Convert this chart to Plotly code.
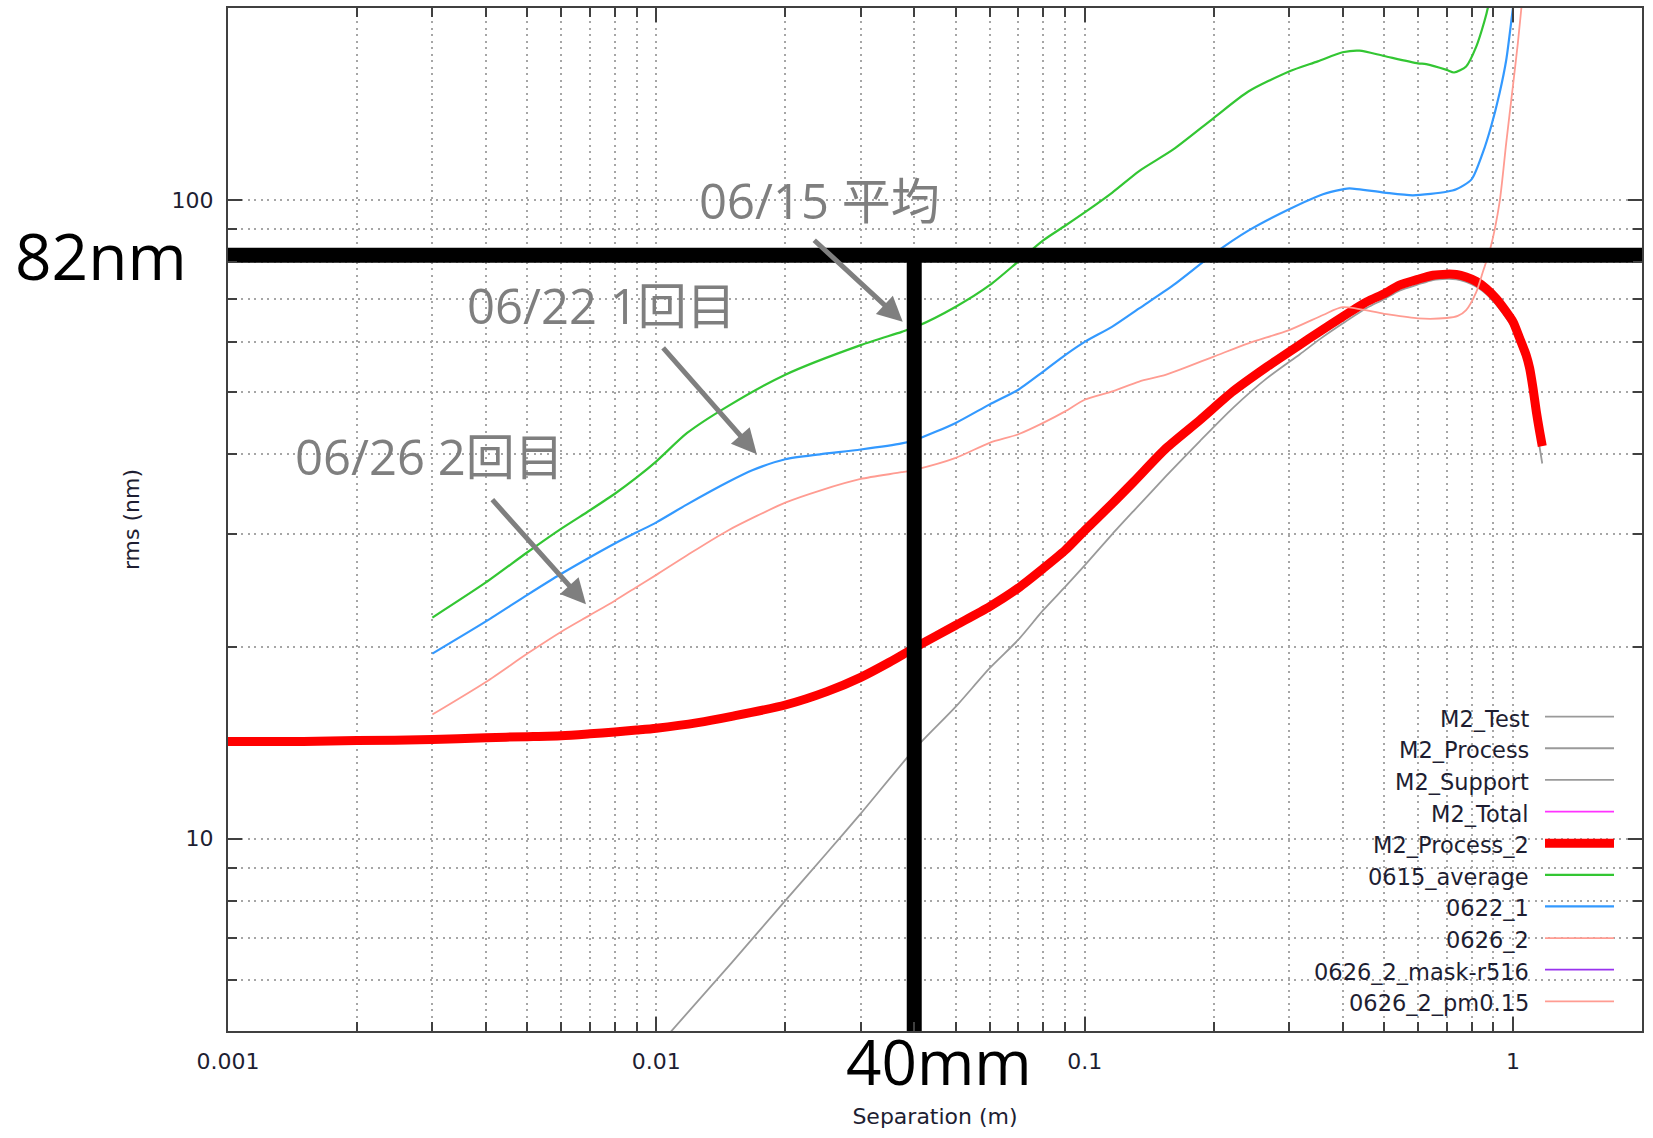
import math
import plotly.graph_objects as go

# ---------------------------------------------------------------------------
# Structure-function style curves: separation (m) vs rms (nm)
# ---------------------------------------------------------------------------
process2_sep = [0.001, 0.0015, 0.002, 0.003, 0.004, 0.005, 0.006, 0.007, 0.008, 0.009,
                0.01, 0.0125, 0.015, 0.02, 0.025, 0.03, 0.035, 0.04, 0.05, 0.06,
                0.07, 0.08, 0.09, 0.1, 0.116, 0.13, 0.155, 0.186, 0.222, 0.266,
                0.318, 0.354, 0.4, 0.455, 0.5, 0.543, 0.6, 0.65, 0.7, 0.737,
                0.777, 0.821, 0.866, 0.914, 0.964, 1.0, 1.036, 1.073, 1.093, 1.113,
                1.133, 1.153, 1.17]
process2_rms = [14.2, 14.2, 14.25, 14.3, 14.4, 14.45, 14.5, 14.6, 14.7, 14.8,
                14.9, 15.2, 15.55, 16.2, 17.0, 17.9, 18.9, 19.9, 21.6, 23.1,
                24.7, 26.5, 28.3, 30.4, 33.5, 36.2, 40.9, 45.3, 50.2, 54.8,
                59.4, 62.3, 65.7, 69.3, 71.4, 73.6, 75.2, 76.3, 76.6, 76.5,
                75.8, 74.6, 72.7, 70.1, 66.9, 64.5, 60.8, 57.2, 54.6, 50.8,
                46.7, 43.5, 41.2]

process_sep = [0.01, 0.015, 0.02, 0.025, 0.03, 0.04, 0.05, 0.06, 0.07, 0.08,
               0.09, 0.1, 0.116, 0.13, 0.155, 0.186, 0.222, 0.266, 0.318, 0.354,
               0.4, 0.455, 0.5, 0.543, 0.6, 0.65, 0.7, 0.737, 0.777, 0.821,
               0.866, 0.914, 0.964, 1.0, 1.036, 1.073, 1.093, 1.113, 1.133, 1.153,
               1.17]
process_rms = [4.7, 6.4, 8.0, 9.5, 10.95, 13.8, 16.1, 18.5, 20.5, 22.8,
               24.8, 26.8, 30.0, 32.6, 37.0, 42.0, 47.3, 52.6, 57.4, 60.6,
               64.1, 67.8, 70.0, 72.2, 73.8, 75.0, 75.3, 75.2, 74.5, 73.2,
               71.3, 68.6, 65.4, 62.9, 59.1, 55.4, 52.7, 48.8, 44.5, 41.1,
               38.7]

avg0615_sep = [0.003, 0.004, 0.005, 0.006, 0.007, 0.008, 0.009, 0.01, 0.0118, 0.0147,
               0.02, 0.03, 0.0374, 0.0405, 0.05, 0.06, 0.07, 0.08, 0.09, 0.1,
               0.116, 0.134, 0.161, 0.2, 0.241, 0.3, 0.35, 0.4, 0.438, 0.5,
               0.6, 0.627, 0.7, 0.728, 0.777, 0.8205, 0.858, 0.873, 0.885]
avg0615_rms = [22.2, 25.2, 28.1, 30.6, 32.7, 34.7, 36.8, 39.0, 43.2, 47.6,
               53.3, 59.3, 62.2, 63.4, 68.1, 73.6, 80.2, 86.5, 91.2, 95.7,
               102.8, 111.1, 120.1, 134.5, 148.0, 159.1, 165.0, 170.5, 171.5, 168.2,
               163.8, 163.4, 160.0, 158.5, 162.0, 174.0, 191.0, 200.0, 212.0]

run0622_sep = [0.003, 0.004, 0.005, 0.006, 0.007, 0.008, 0.009, 0.01, 0.0118, 0.0147,
               0.0168, 0.02, 0.0241, 0.03, 0.0374, 0.0405, 0.05, 0.06, 0.07, 0.08,
               0.09, 0.1, 0.116, 0.134, 0.161, 0.2, 0.241, 0.3, 0.36, 0.4,
               0.415, 0.5, 0.584, 0.7, 0.737, 0.8, 0.85, 0.889, 0.93, 0.964,
               0.998, 1.01]
run0622_rms = [19.5, 21.9, 24.1, 26.0, 27.6, 29.0, 30.2, 31.3, 33.4, 36.2,
               37.8, 39.3, 40.0, 40.7, 41.6, 42.2, 44.8, 47.9, 50.5, 53.9,
               57.2, 60.0, 63.4, 67.7, 73.6, 82.4, 89.6, 96.8, 102.2, 104.0,
               104.4, 102.8, 101.8, 103.1, 104.0, 107.8, 118.7, 130.6, 147.1, 165.8,
               198.4, 210.0]

run0626_sep = [0.003, 0.004, 0.005, 0.006, 0.007, 0.008, 0.009, 0.01, 0.0118, 0.0147,
               0.02, 0.0241, 0.03, 0.0374, 0.0405, 0.05, 0.06, 0.07, 0.08, 0.09,
               0.1, 0.116, 0.134, 0.155, 0.2, 0.241, 0.3, 0.36, 0.4, 0.5,
               0.6, 0.7, 0.743, 0.777, 0.8205, 0.85, 0.885, 0.93, 0.964, 0.999,
               1.026, 1.045, 1.06]
run0626_rms = [15.65, 17.6, 19.5, 21.1, 22.4, 23.6, 24.8, 25.9, 27.8, 30.4,
               33.6, 35.1, 36.6, 37.5, 37.9, 39.5, 41.7, 43.0, 44.8, 46.7,
               48.7, 50.2, 52.0, 53.3, 56.9, 59.7, 62.6, 66.1, 68.0, 66.4,
               65.3, 65.4, 65.9, 67.3, 71.8, 77.2, 84.0, 99.2, 123.0, 150.7,
               176.0, 199.0, 215.0]

# series: name -> (separations, rms values); empty series appear only in the key
series_names = ["M2_Test", "M2_Process", "M2_Support", "M2_Total", "M2_Process_2",
                "0615_average", "0622_1", "0626_2", "0626_2_mask-r516", "0626_2_pm0.15"]
series_data = {
    "M2_Test": ([], []),
    "M2_Process": (process_sep, process_rms),
    "M2_Support": ([], []),
    "M2_Total": ([], []),
    "M2_Process_2": (process2_sep, process2_rms),
    "0615_average": (avg0615_sep, avg0615_rms),
    "0622_1": (run0622_sep, run0622_rms),
    "0626_2": (run0626_sep, run0626_rms),
    "0626_2_mask-r516": ([], []),
    "0626_2_pm0.15": ([], []),
}
series_colors = ["#9a9a9a", "#9a9a9a", "#9a9a9a", "#ff33ff", "#ff0000",
                 "#33c633", "#3399ff", "#ff9c92", "#9933ee", "#ff9c92"]
series_widths = [1.8, 1.8, 1.8, 1.8, 9, 2.2, 2.2, 1.8, 1.8, 1.8]

# axis ticks
x_major = [0.001, 0.01, 0.1, 1]
x_major_text = ["0.001", "0.01", "0.1", "1"]
y_major = [10, 100]
y_major_text = ["10", "100"]

# highlighted operating point
target_rms = 82      # nm
target_sep = 0.04    # m

# callout labels and the curve points their arrows point at
callout_text = ["06/15 平均", "06/22 1回目", "06/26 2回目"]
callout_sep = [0.0376, 0.01716, 0.00685]
callout_rms = [64.5, 40.0, 23.3]

# ---------------------------------------------------------------------------
W, H = 1653, 1138
ML, MR, MT, MB = 228, 11, 6, 107
PW, PH = W - ML - MR, H - MT - MB
TEXT_COLOR = "#1e1e32"
AXIS_COLOR = "#404040"


def paper_x(px):
    return (px - ML) / PW


def paper_y(py):
    return (H - MB - py) / PH


fig = go.Figure()

for name, color, width in zip(series_names, series_colors, series_widths):
    xs, ys = series_data[name]
    fig.add_trace(go.Scatter(x=xs, y=ys, mode="lines", name=name,
                             line=dict(color=color, width=width,
                                       shape="spline", smoothing=0.7),
                             showlegend=False))

# heavy black guide lines through the operating point
fig.add_trace(go.Scatter(x=[0.001, 2], y=[target_rms, target_rms], mode="lines",
                         line=dict(color="black", width=15), showlegend=False,
                         hoverinfo="skip"))
fig.add_trace(go.Scatter(x=[target_sep, target_sep], y=[target_rms, 5], mode="lines",
                         line=dict(color="black", width=15), showlegend=False,
                         hoverinfo="skip"))

annotations = []
shapes = []

# guide labels
annotations.append(dict(text=f"{target_rms}nm", xref="paper", yref="y",
                        x=paper_x(101), y=math.log10(target_rms),
                        xanchor="center", yanchor="middle", showarrow=False,
                        font=dict(family="Open Sans", size=64, color="black")))
annotations.append(dict(text=f"{round(target_sep * 1000)}mm", xref="paper", yref="paper",
                        x=paper_x(939), y=paper_y(1061),
                        xanchor="center", yanchor="middle", showarrow=False,
                        font=dict(family="Open Sans", size=62, color="black")))

# callouts
callout_text_pos = [(819, 198), (601, 304), (429, 455)]
callout_tail = [(-90, -83), (-95, -108), (-95, -106)]
for txt, sx, ry, (tx, ty), (ax, ay) in zip(callout_text, callout_sep, callout_rms,
                                           callout_text_pos, callout_tail):
    annotations.append(dict(text=txt, xref="paper", yref="paper",
                            x=paper_x(tx), y=paper_y(ty), xanchor="center",
                            yanchor="middle", showarrow=False,
                            font=dict(family="Open Sans, Noto Sans CJK JP",
                                      size=49, color="#7f7f7f")))
    annotations.append(dict(text="", xref="x", yref="y",
                            x=math.log10(sx), y=math.log10(ry),
                            ax=ax, ay=ay, showarrow=True, arrowhead=2,
                            arrowsize=1, arrowwidth=5, arrowcolor="#7f7f7f",
                            standoff=0))

# key: white panel, right-aligned names, line samples on the right
shapes.append(dict(type="rect", xref="paper", yref="paper", layer="between",
                   x0=paper_x(1303), x1=paper_x(1626), y0=0, y1=paper_y(700),
                   fillcolor="white", line=dict(width=0)))
row0, row_step = 718, 31.7
for i, (name, color, width) in enumerate(zip(series_names, series_colors, series_widths)):
    ry = row0 + i * row_step
    annotations.append(dict(text=name, xref="paper", yref="paper",
                            x=paper_x(1531), y=paper_y(ry), xanchor="right",
                            yanchor="middle", showarrow=False,
                            font=dict(family="DejaVu Sans", size=22.5, color=TEXT_COLOR)))
    shapes.append(dict(type="line", xref="paper", yref="paper", layer="above",
                       x0=paper_x(1545), x1=paper_x(1614),
                       y0=paper_y(ry - 2), y1=paper_y(ry - 2),
                       line=dict(color=color, width=width)))

grid_style = dict(gridcolor="#a6a6a6", gridwidth=1.5, griddash="2px,4.5px")
x_minor = [m * 10.0 ** e for e in (-3, -2, -1) for m in range(2, 10)]
y_minor = [m * 10.0 ** e for e in (0, 1) for m in range(2, 10) if m * 10.0 ** e > 5]

axis_common = dict(type="log", ticks="inside", ticklen=14, tickwidth=2,
                   tickcolor=AXIS_COLOR, showline=True, linecolor=AXIS_COLOR,
                   linewidth=2, mirror="allticks", showgrid=True, zeroline=False,
                   tickfont=dict(family="DejaVu Sans", size=22, color=TEXT_COLOR),
                   **grid_style)

fig.update_xaxes(range=[-3, math.log10(2)], tickvals=x_major, ticktext=x_major_text,
                 ticklabelstandoff=10,
                 minor=dict(tickvals=x_minor, ticks="inside", ticklen=9, tickwidth=1.5,
                            tickcolor=AXIS_COLOR, showgrid=True, **grid_style),
                 title=dict(text="Separation (m)", standoff=35,
                            font=dict(family="DejaVu Sans", size=22, color=TEXT_COLOR)),
                 **axis_common)
fig.update_yaxes(range=[math.log10(5), math.log10(200)], tickvals=y_major,
                 ticktext=y_major_text, ticklabelstandoff=8,
                 minor=dict(tickvals=y_minor, ticks="inside", ticklen=9, tickwidth=1.5,
                            tickcolor=AXIS_COLOR, showgrid=True, **grid_style),
                 title=dict(text="rms (nm)", standoff=26,
                            font=dict(family="DejaVu Sans", size=22, color=TEXT_COLOR)),
                 **axis_common)

fig.update_layout(width=W, height=H, margin=dict(l=ML, r=MR, t=MT, b=MB, pad=0),
                  paper_bgcolor="white", plot_bgcolor="white", showlegend=False,
                  annotations=annotations, shapes=shapes,
                  font=dict(family="DejaVu Sans", size=22, color=TEXT_COLOR))

fig.write_html("out.html")
